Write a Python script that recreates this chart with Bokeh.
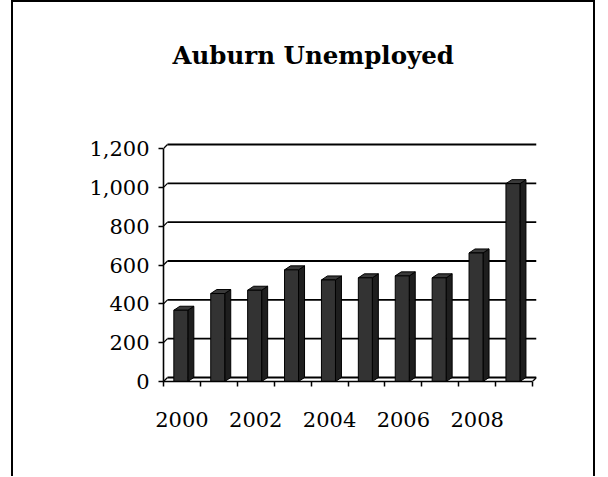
from bokeh.plotting import figure
from bokeh.models import Range1d, FixedTicker, Title
from bokeh.embed import file_html
from bokeh.resources import INLINE

# ---- data ----
years = [2000, 2001, 2002, 2003, 2004, 2005, 2006, 2007, 2008, 2009]
unemployed = [367, 453, 470, 575, 523, 534, 544, 534, 662, 1019]
y_ticks = [0, 200, 400, 600, 800, 1000, 1200]
y_tick_labels = ["0", "200", "400", "600", "800", "1,000", "1,200"]
x_label_years = [2000, 2002, 2004, 2006, 2008]
x_tick_labels = ["2000", "2002", "2004", "2006", "2008"]
title_text = "Auburn Unemployed"

# ---- layout (pixels) ----
W, H = 584, 476
FRAME_L, FRAME_T = 150, 140
FRAME_W, FRAME_H = 373, 239
CAT_PX = 36.9                 # pixels per category
Y_PX = 233.0 / 1200.0         # pixels per unit
WALL_DX, WALL_DY = 4, 4       # back wall offset (px)
BAR_DX, BAR_DY = 6, 4         # bar depth (px)
TOP_PAD = 2                   # px above top gridline
TITLE_GAP = 70                # space between title and plot area

wdx, wdy = WALL_DX / CAT_PX, WALL_DY / Y_PX
bdx, bdy = BAR_DX / CAT_PX, BAR_DY / Y_PX
x0, x1 = years[0] - 0.5, years[-1] + 0.5
FONT = "DejaVu Serif"

p = figure(width=W, height=H, output_backend="svg", toolbar_location=None,
           x_range=Range1d(x0, x1 + wdx),
           y_range=Range1d(0, y_ticks[-1] + wdy + TOP_PAD / Y_PX),
           min_border_left=FRAME_L, min_border_top=FRAME_T,
           min_border_right=W - FRAME_L - FRAME_W,
           min_border_bottom=H - FRAME_T - FRAME_H)
p.margin = (0, 0, 0, 11)
p.styles = {"border-left": "2px solid black", "border-top": "2px solid black",
            "border-right": "2px solid black"}
p.outline_line_color = None
p.background_fill_color = "white"
p.border_fill_color = "white"
p.xgrid.visible = False
p.ygrid.visible = False

# spacer panel (closest to plot), then the real title above it
p.add_layout(Title(text=" ", text_font_size="1px", standoff=TITLE_GAP), "above")
p.add_layout(Title(text=title_text, text_font=FONT, text_font_size="24.5px",
                   text_font_style="bold", text_color="black", align="left",
                   offset=9, standoff=0, vertical_align="bottom"), "above")

# back-wall gridlines + connectors
gy = [t + wdy for t in y_ticks]
p.segment(x0=[x0 + wdx] * len(y_ticks), y0=gy, x1=[x1 + wdx] * len(y_ticks), y1=gy,
          line_color="black", line_width=1.8)
p.segment(x0=[x0] * len(y_ticks), y0=y_ticks, x1=[x0 + wdx] * len(y_ticks), y1=gy,
          line_color="black", line_width=1.2)
p.segment(x0=[x1], y0=[0], x1=[x1 + wdx], y1=[wdy], line_color="black", line_width=1.2)

# 3D bars
bw = 14 / CAT_PX
cx = [y - 0.03 for y in years]
lefts = [c - bw / 2 for c in cx]
rights = [c + bw / 2 for c in cx]
side_xs = [[r, r + bdx, r + bdx, r] for r in rights]
side_ys = [[0, bdy, v + bdy, v] for v in unemployed]
top_xs = [[l, l + bdx, r + bdx, r] for l, r in zip(lefts, rights)]
top_ys = [[v, v + bdy, v + bdy, v] for v in unemployed]
p.patches(side_xs, side_ys, fill_color="#1e1e1e", line_color="black", line_width=1)
p.patches(top_xs, top_ys, fill_color="#3a3a3a", line_color="black", line_width=1)
p.vbar(x=cx, top=unemployed, bottom=0, width=bw, fill_color="#333333",
       line_color="black", line_width=1)

# axes
xa = p.xaxis[0]
xa.ticker = FixedTicker(ticks=x_label_years,
                        minor_ticks=[y + 0.5 for y in years] + [x0])
xa.major_label_overrides = {yr: lab for yr, lab in zip(x_label_years, x_tick_labels)}
xa.bounds = (x0, x1)
xa.axis_line_color = "black"
xa.axis_line_width = 1.6
xa.major_tick_out = 0
xa.major_tick_in = 0
xa.minor_tick_out = 5
xa.minor_tick_in = 0
xa.minor_tick_line_color = "black"
xa.minor_tick_line_width = 1.5
xa.major_label_standoff = 25
xa.major_label_text_font = FONT
xa.major_label_text_font_size = "21px"
xa.major_label_text_color = "black"

ya = p.yaxis[0]
ya.ticker = FixedTicker(ticks=y_ticks, minor_ticks=[])
ya.major_label_overrides = {t: lab for t, lab in zip(y_ticks, y_tick_labels)}
ya.bounds = (0, y_ticks[-1])
ya.axis_line_color = "black"
ya.axis_line_width = 1.6
ya.major_tick_out = 5
ya.major_tick_in = 0
ya.major_tick_line_color = "black"
ya.major_tick_line_width = 1.5
ya.major_label_standoff = 9
ya.major_label_text_font = FONT
ya.major_label_text_font_size = "21px"
ya.major_label_text_color = "black"

open("out.html", "w").write(file_html(p, INLINE))
